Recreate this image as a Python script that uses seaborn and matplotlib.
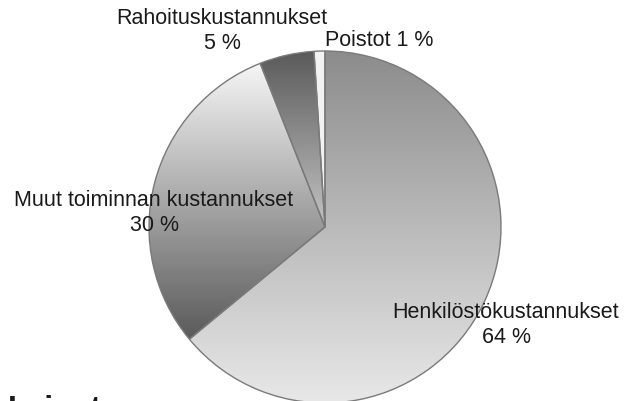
import numpy as np
import seaborn as sns
import matplotlib.pyplot as plt
from matplotlib.colors import LinearSegmentedColormap

# Data
categories = ['Henkilöstökustannukset', 'Muut toiminnan kustannukset',
              'Rahoituskustannukset', 'Poistot']
shares = [64, 30, 5, 1]
pct_labels = ['64 %', '30 %', '5 %', '1 %']

# Styling: gradient (bottom colour, top colour) per slice
gradients = [('#e8e8e8', '#8c8c8c'),
             ('#5a5a5a', '#f6f6f6'),
             ('#c4c4c4', '#5a5a5a'),
             ('#f2f2f2', '#f2f2f2')]
# label anchors in pixels (x, y from top), alignment
label_pos = [(506, 325, 'center'), (154, 213, 'center'),
             (222, 31, 'center'), (325, 40, 'left')]

sns.set_theme(style='white')
plt.rcParams['font.family'] = ['Liberation Sans', 'DejaVu Sans']

W, H = 636, 402
cx, cy, r = 325, 228, 176

fig = plt.figure(figsize=(W / 100, H / 100), dpi=100)
ax = fig.add_axes([0, 0, 1, 1])

wedges, _ = ax.pie(shares, startangle=90, counterclock=False, radius=1,
                   wedgeprops=dict(facecolor='none', edgecolor='#7a7a7a',
                                   linewidth=1.0, zorder=3))

grad = np.linspace(0, 1, 256).reshape(-1, 1)
for w, (c0, c1) in zip(wedges, gradients):
    ext = w.get_path().get_extents()
    cmap = LinearSegmentedColormap.from_list('g', [c0, c1])
    im = ax.imshow(grad, extent=[ext.x0, ext.x1, ext.y0, ext.y1],
                   origin='lower', cmap=cmap, aspect='auto', zorder=2,
                   interpolation='bilinear')
    im.set_clip_path(w)

ax.set_xlim(-cx / r, (W - cx) / r)
ax.set_ylim((cy - H) / r, cy / r)
ax.set_aspect('equal')
ax.axis('off')

# Labels
for name, pct, (px, py, ha) in zip(categories, pct_labels, label_pos):
    if ha == 'left':
        txt = f'{name} {pct}'
    else:
        txt = f'{name}\n{pct}'
    fig.text(px / W, 1 - py / H, txt, ha=ha, va='center', fontsize=15.5,
             color='#1a1a1a', linespacing=1.2)

# heading of the next section, cut by the bottom edge as in the scan
fig.text(8 / W, 1 - 395 / H, 'Lainat', ha='left', va='top', fontsize=23,
         fontweight='bold', color='#1a1a1a')

plt.savefig('out.png', dpi=100)
